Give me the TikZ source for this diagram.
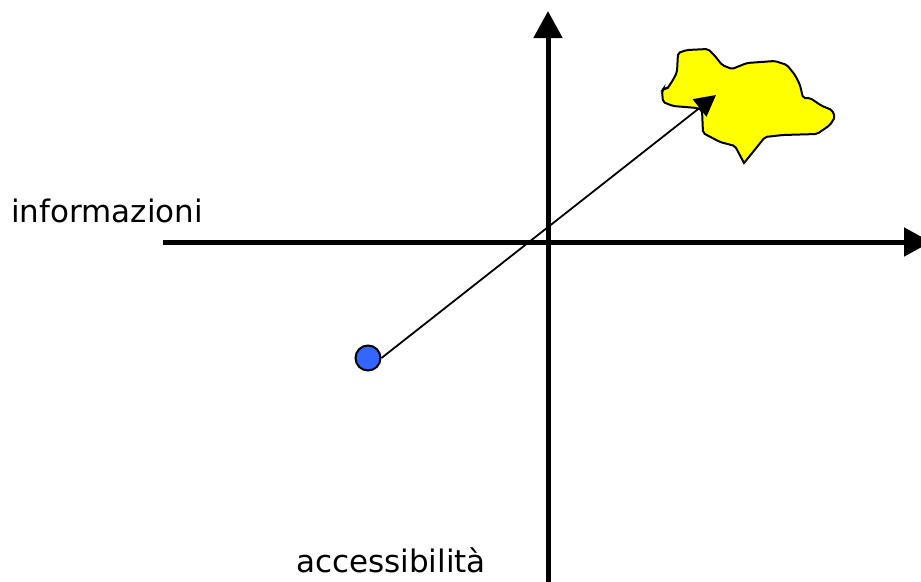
\documentclass[tikz,border=0pt]{standalone}
\usepackage{fontspec}
\setmainfont{DejaVu Sans}
\usepackage{xcolor}
\usetikzlibrary{arrows.meta}
\definecolor{blobyellow}{RGB}{255,255,0}
\definecolor{dotblue}{RGB}{51,102,255}
\tikzset{
  axis/.style     = {-{Triangle[length=27pt,width=28pt]}, draw=black, line width=5pt},
  blob/.style     = {draw=black, fill=blobyellow, line width=2pt, rounded corners=2pt},
  dot/.style      = {circle, draw=black, fill=dotblue, line width=2pt, minimum size=25pt, inner sep=0pt},
  arrowto/.style  = {-{Triangle[length=21pt,width=22pt]}, draw=black, line width=1.8pt},
  lbl/.style      = {font=\fontsize{31pt}{34pt}\selectfont, anchor=base west, inner sep=0pt},
}
\begin{document}
\begin{tikzpicture}[x=1pt,y=-1pt]
  \useasboundingbox (0,0) rectangle (921,581);
  \clip (0,0) rectangle (921,581);
  % ----- axes -----
  \coordinate (xstart) at (163,242);
  \coordinate (xend) at (931,242);
  \coordinate (ystart) at (548,585);
  \coordinate (yend) at (548,11);
  \draw[axis] (xstart) -- (xend);
  \draw[axis] (ystart) -- (yend);

  % ----- yellow region -----
  \draw[blob] (678,53) -- (687,50) -- (708,49) -- (715,56) -- (722,65) -- (732,69)
    -- (747,63) -- (775,61) -- (787,65) -- (795,75) -- (800,85) -- (803,98)
    -- (810,98) -- (822,106) -- (832,110) -- (835,117) -- (830,125) -- (817,134)
    -- (783,135) -- (765,137) -- (757,147) [sharp corners] -- (744,163) [rounded corners=2pt] -- (735,146) -- (720,142)
    -- (703,133) -- (702,110) -- (697,108) -- (673,106) -- (663,102) -- (662,91)
    -- (664,88) -- (667,89) -- (673,80) -- (677,72) -- cycle;

  % ----- point and arrow -----
  \node[dot] (point) at (368,358) {};
  \coordinate (target) at (716,95);
  \draw[arrowto] (point.east) -- (target);

  % ----- labels -----
  \node[lbl] (info) at (11,222) {informazioni};
  \node[lbl] (access) at (296,572) {accessibilità};
\end{tikzpicture}
\end{document}
